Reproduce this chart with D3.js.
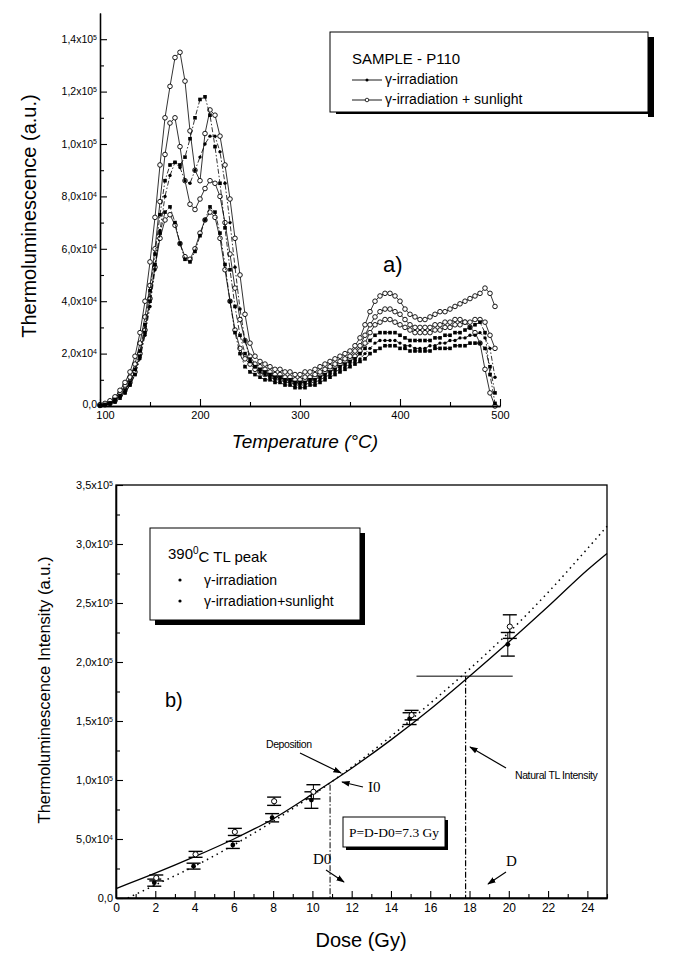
<!DOCTYPE html>
<html><head><meta charset="utf-8">
<script src="https://cdn.jsdelivr.net/npm/d3@7/dist/d3.min.js"></script>
<style>
body{margin:0;background:#fff}
svg{display:block}
</style></head><body>
<svg id="c" width="700" height="961"></svg>
<script>
// ================= DATA (top panel, values in 10^3 a.u.) =================
const temperature = [
 100,105,110,115,120,125,130,135,140,145,
 150,155,160,165,170,175,180,185,190,195,
 200,205,210,215,220,225,230,235,240,245,
 250,255,260,265,270,275,280,285,290,295,
 300,305,310,315,320,325,330,335,340,345,
 350,355,360,365,370,375,380,385,390,395,
 400,405,410,415,420,425,430,435,440,445,
 450,455,460,465,470,475,480,485,490,495];
const sun1 = [
 0.5,1,2,3.5,6,9,13,19,28,40,
 55,72,92,110,122,133,135,124,105,90,
 86,104,113,111,103,92,79,64,50,35,
 24,19,17,16,15,14,14,13,13,12,
 12,13,13,14,15,16,17,18,19,20,
 21,23,26,31,36,40,42,43,43,42,
 40,37,35,34,33,33,34,35,36,36,
 37,38,39,40,41,42,43,45,43,38];
const sun2 = [
 0.3,0.8,1.5,3,5,8,11,16,24,34,
 46,60,78,96,108,110,99,86,77,75,
 79,83,86,85,80,70,58,45,33,25,
 19,16,15,14,13,12,12,11,11,10,
 10,11,11,12,13,14,15,16,17,18,
 19,21,23,27,31,34,36,37,37,36,
 35,33,31,30,30,30,30,31,31,32,
 32,33,33,32,30,28,24,14,5,0];
const sun3 = [
 0.2,0.5,1,2,4,6,9,13,20,29,
 41,53,64,71,73,69,62,57,56,60,
 66,71,74,72,64,52,40,29,22,18,
 16,14,13,12,12,11,11,10,10,9,
 9,10,10,11,12,13,14,15,16,17,
 18,19,21,24,28,31,32,33,33,32,
 31,30,29,28,28,28,28,29,29,30,
 30,31,31,32,32,33,33,32,27,22];
const gam1 = [
 0.3,0.6,1.2,2.5,4,6,9,14,21,31,
 44,58,73,86,92,93,92,95,102,110,
 117,118,111,99,85,68,52,38,27,20,
 17,15,14,13,12,11,11,10,10,9,
 9,9,10,10,11,12,13,14,15,16,
 17,18,20,22,25,27,28,28,28,28,
 27,26,25,25,25,25,25,26,26,27,
 27,28,28,29,30,31,32,28,12,1];
const gam2 = [
 0.2,0.5,1,2,3.5,5,8,12,18,27,
 38,52,67,80,88,93,91,86,85,90,
 95,100,103,103,97,85,70,53,37,25,
 18,15,13,12,11,10,10,9,9,8,
 8,8,9,9,10,11,12,13,14,15,
 16,17,18,20,22,24,25,25,25,25,
 24,23,23,22,22,22,23,23,24,24,
 25,25,26,26,27,27,28,26,22,11];
const gam3 = [
 0.2,0.4,0.8,1.5,3,5,8,12,19,28,
 40,54,66,74,76,70,62,56,55,59,
 65,71,76,74,66,54,40,28,20,15,
 13,12,11,10,10,9,9,8,8,7,
 7,7,8,8,9,10,11,12,13,14,
 15,16,17,18,20,21,22,23,23,23,
 22,22,21,21,21,21,21,22,22,22,
 22,23,23,23,24,24,24,22,15,5];
const topXTicks = [100,200,300,400,500];
const topXMinor = [150,250,350,450];
const topYTicks = [0,20,40,60,80,100,120,140];
const topYMinor = [10,30,50,70,90,110,130];
const topYLabels = [["0,0",""],["2,0x10","4"],["4,0x10","4"],["6,0x10","4"],["8,0x10","4"],["1,0x10","5"],["1,2x10","5"],["1,4x10","5"]];

// ================= DATA (bottom panel, values in 10^3 a.u.) =================
const doses = [2,4,6,8,10,15,20];
const gammaTL  = [13,27,45,68,83,152,215];
const gammaErr = [3,2.5,3,3.5,7,5,10];
const sunTL    = [17,37,56,82,90,155,230];
const sunErr   = [2.5,2.5,3,3.5,6,4,10];
const fitDose   = [0,2,4,6,8,10,12,14,16,18,20,22,24,25];
const fitSolid  = [8,21,35,50,67,88,110,134,160,188,217,247,278,292];
const dotDose   = [0.6,2,4,6,8,10,12,14,16,18,20,22,24,25];
const fitDotted = [0,11,27,45,65,87,111,137,165,194,225,259,296,315];
const D0 = 10.9, Dnat = 17.8, I0 = 100, naturalTL = 188;
const natLineDose = [15.3, 20.2];
const botXTicks = [0,2,4,6,8,10,12,14,16,18,20,22,24];
const botXMinor = [1,3,5,7,9,11,13,15,17,19,21,23,25];
const botYTicks = [0,50,100,150,200,250,300,350];
const botYMinor = [25,75,125,175,225,275,325];
const botYLabels = [["0,0",""],["5,0x10","4"],["1,0x10","5"],["1,5x10","5"],["2,0x10","5"],["2,5x10","5"],["3,0x10","5"],["3,5x10","5"]];

// ================= DRAWING =================
const svg = d3.select("#c");
const FN = "'Liberation Sans Narrow','Arial Narrow','Liberation Sans',Arial,sans-serif";
const FS = "'Liberation Sans',Arial,sans-serif";
const SERIF = "'Liberation Serif','Times New Roman',serif";

svg.append("defs").append("marker").attr("id","arr").attr("viewBox","0 0 10 10")
  .attr("refX",9).attr("refY",5).attr("markerWidth",7).attr("markerHeight",7)
  .attr("orient","auto").append("path").attr("d","M0,1.5L10,5L0,8.5z").attr("fill","#000");

function sci(textSel, lab){
  textSel.each(function(d,i){
    const t = d3.select(this); t.text(null);
    t.append("tspan").text(lab[i][0]);
    if(lab[i][1]) t.append("tspan").attr("dy","-0.5em").attr("font-size","7px").text(lab[i][1]);
  });
}
function styleAxis(g){ g.select(".domain").attr("stroke","#000").attr("stroke-width",1.3); g.selectAll(".tick line").attr("stroke","#000").attr("stroke-width",1.1); }

// ---------- TOP PANEL ----------
const xT = d3.scaleLinear().domain([100,500]).range([100,500]);
const yT = d3.scaleLinear().domain([0,150]).range([406,13]);
const gTop = svg.append("g");

const topSeries = [
  {v:sun3,kind:"sun"},{v:sun2,kind:"sun"},{v:sun1,kind:"sun"},
  {v:gam3,kind:"sq"},{v:gam2,kind:"dot"},{v:gam1,kind:"sq"}];
topSeries.forEach(s=>{
  const pts = temperature.map((t,i)=>[t,s.v[i]]);
  gTop.append("path").attr("d", d3.line().x(d=>xT(d[0])).y(d=>yT(d[1]))(pts))
    .attr("fill","none").attr("stroke","#000").attr("stroke-width",0.8)
    .attr("stroke-dasharray", s.kind==="sun"?null:"5,2,1.5,2");
  const m = gTop.append("g");
  if(s.kind==="sun"){
    m.selectAll("circle").data(pts).join("circle").attr("cx",d=>xT(d[0])).attr("cy",d=>yT(d[1]))
      .attr("r",2.3).attr("fill","#fff").attr("stroke","#000").attr("stroke-width",0.9);
  } else if(s.kind==="sq"){
    m.selectAll("rect").data(pts).join("rect").attr("x",d=>xT(d[0])-1.8).attr("y",d=>yT(d[1])-1.8)
      .attr("width",3.6).attr("height",3.6).attr("fill","#000");
  } else {
    m.selectAll("circle").data(pts).join("circle").attr("cx",d=>xT(d[0])).attr("cy",d=>yT(d[1]))
      .attr("r",1.7).attr("fill","#000");
  }
});

const tyMin = gTop.append("g").attr("transform","translate(100,0)")
  .call(d3.axisLeft(yT).tickValues(topYMinor).tickSize(-4).tickSizeOuter(0).tickFormat(""));
styleAxis(tyMin);
const tyAx = gTop.append("g").attr("transform","translate(100,0)")
  .call(d3.axisLeft(yT).tickValues(topYTicks).tickSize(-7).tickSizeOuter(0).tickPadding(3));
styleAxis(tyAx);
tyAx.selectAll("text").attr("font-family",FN).attr("font-size",10.5).attr("fill","#000").call(sci, topYLabels);
tyAx.selectAll(".tick").filter(d=>d===0).select("text").attr("dy","0.1em");
const txMin = gTop.append("g").attr("transform","translate(0,406)")
  .call(d3.axisBottom(xT).tickValues(topXMinor).tickSize(-4).tickSizeOuter(0).tickFormat(""));
styleAxis(txMin);
const txAx = gTop.append("g").attr("transform","translate(0,406)")
  .call(d3.axisBottom(xT).tickValues(topXTicks).tickSize(-7).tickSizeOuter(0).tickPadding(5));
styleAxis(txAx);
txAx.selectAll("text").attr("font-family",FN).attr("font-size",11).attr("fill","#000");
txAx.selectAll(".tick").filter(d=>d===100).select("text").attr("x",5);

gTop.append("text").attr("transform","translate(36,216) rotate(-90)").attr("text-anchor","middle")
  .attr("font-family",FS).attr("font-size",20).text("Thermoluminescence (a.u.)");
gTop.append("text").attr("x",305).attr("y",448).attr("text-anchor","middle")
  .attr("font-family",FS).attr("font-size",19).attr("font-style","italic").text("Temperature (°C)");
gTop.append("text").attr("x",383).attr("y",272).attr("font-family",FS).attr("font-size",22).text("a)");

// top legend
gTop.append("rect").attr("x",648).attr("y",37).attr("width",6).attr("height",80).attr("fill","#000");
gTop.append("rect").attr("x",336).attr("y",112).attr("width",318).attr("height",2).attr("fill","#000");
gTop.append("rect").attr("x",330).attr("y",32).attr("width",318).attr("height",80).attr("fill","#fff").attr("stroke","#000").attr("stroke-width",1);
gTop.append("text").attr("x",352).attr("y",64).attr("font-family",FS).attr("font-size",15).text("SAMPLE - P110");
[[84,"gam","γ-irradiation"],[104,"sun","γ-irradiation + sunlight"]].forEach(r=>{
  gTop.append("line").attr("x1",352).attr("x2",382).attr("y1",r[0]-4).attr("y2",r[0]-4).attr("stroke","#000").attr("stroke-width",0.9);
  if(r[1]==="gam") gTop.append("circle").attr("cx",367).attr("cy",r[0]-4).attr("r",1.5).attr("fill","#000");
  else gTop.append("circle").attr("cx",367).attr("cy",r[0]-4).attr("r",1.8).attr("fill","#fff").attr("stroke","#000").attr("stroke-width",0.8);
  gTop.append("text").attr("x",385).attr("y",r[0]).attr("font-family",FS).attr("font-size",14).text(r[2]);
});

// ---------- BOTTOM PANEL ----------
const xB = d3.scaleLinear().domain([0,25]).range([116,607]);
const yB = d3.scaleLinear().domain([0,350]).range([898,485]);
const gBot = svg.append("g");

gBot.append("rect").attr("x",116).attr("y",485).attr("width",491).attr("height",413).attr("fill","none").attr("stroke","#000").attr("stroke-width",1.3);

const byMin = gBot.append("g").attr("transform","translate(116,0)")
  .call(d3.axisLeft(yB).tickValues(botYMinor).tickSize(-4).tickSizeOuter(0).tickFormat(""));
styleAxis(byMin);
const byAx = gBot.append("g").attr("transform","translate(116,0)")
  .call(d3.axisLeft(yB).tickValues(botYTicks).tickSize(-7).tickSizeOuter(0).tickPadding(3));
styleAxis(byAx);
byAx.selectAll("text").attr("font-family",FN).attr("font-size",11).attr("fill","#000").call(sci, botYLabels);
const bxMin = gBot.append("g").attr("transform","translate(0,898)")
  .call(d3.axisBottom(xB).tickValues(botXMinor).tickSize(-4).tickSizeOuter(0).tickFormat(""));
styleAxis(bxMin);
const bxAx = gBot.append("g").attr("transform","translate(0,898)")
  .call(d3.axisBottom(xB).tickValues(botXTicks).tickSize(-7).tickSizeOuter(0).tickPadding(5));
styleAxis(bxAx);
bxAx.selectAll("text").attr("font-family",FN).attr("font-size",12).attr("fill","#000");

gBot.append("text").attr("transform","translate(50,690) rotate(-90)").attr("text-anchor","middle")
  .attr("font-family",FS).attr("font-size",16.5).text("Thermoluminescence Intensity (a.u.)");
gBot.append("text").attr("x",361).attr("y",947).attr("text-anchor","middle")
  .attr("font-family",FS).attr("font-size",20).text("Dose (Gy)");

gBot.append("path").attr("d", d3.line().curve(d3.curveMonotoneX).x((d,i)=>xB(fitDose[i])).y(d=>yB(d))(fitSolid))
  .attr("fill","none").attr("stroke","#000").attr("stroke-width",1.3);
gBot.append("path").attr("d", d3.line().curve(d3.curveMonotoneX).x((d,i)=>xB(dotDose[i])).y(d=>yB(d))(fitDotted))
  .attr("fill","none").attr("stroke","#000").attr("stroke-width",1.5).attr("stroke-dasharray","1.5,4");

function errPts(vals, errs, dx, open){
  const g = gBot.append("g");
  doses.forEach((d,i)=>{
    const x = xB(d)+dx, y1 = yB(vals[i]-errs[i]), y2 = yB(vals[i]+errs[i]);
    g.append("line").attr("x1",x).attr("x2",x).attr("y1",y1).attr("y2",y2).attr("stroke","#000").attr("stroke-width",1);
    [y1,y2].forEach(y=>g.append("line").attr("x1",x-7).attr("x2",x+7).attr("y1",y).attr("y2",y).attr("stroke","#000").attr("stroke-width",1.4));
    if(open) g.append("circle").attr("cx",x).attr("cy",yB(vals[i])).attr("r",2.6).attr("fill","#fff").attr("stroke","#000").attr("stroke-width",1);
    else g.append("circle").attr("cx",x).attr("cy",yB(vals[i])).attr("r",2.4).attr("fill","#000");
  });
}
errPts(gammaTL, gammaErr, -1, false);
errPts(sunTL, sunErr, 1, true);

const dashDot = "6,2,1.5,2";
gBot.append("line").attr("x1",xB(D0)).attr("x2",xB(D0)).attr("y1",yB(I0-4)).attr("y2",yB(0)).attr("stroke","#000").attr("stroke-width",1).attr("stroke-dasharray",dashDot);
gBot.append("line").attr("x1",xB(Dnat)).attr("x2",xB(Dnat)).attr("y1",yB(naturalTL)).attr("y2",yB(0)).attr("stroke","#000").attr("stroke-width",1.2).attr("stroke-dasharray",dashDot);
gBot.append("line").attr("x1",xB(natLineDose[0])).attr("x2",xB(natLineDose[1])).attr("y1",yB(naturalTL)).attr("y2",yB(naturalTL)).attr("stroke","#000").attr("stroke-width",1);

function arrow(x1,y1,x2,y2){ gBot.append("line").attr("x1",x1).attr("y1",y1).attr("x2",x2).attr("y2",y2).attr("stroke","#000").attr("stroke-width",1.2).attr("marker-end","url(#arr)"); }
gBot.append("text").attr("x",266).attr("y",748).attr("font-family",FN).attr("font-size",10.5).attr("letter-spacing","-0.4").text("Deposition");
arrow(300,753,341,773);
gBot.append("text").attr("x",368).attr("y",792).attr("font-family",SERIF).attr("font-size",15).text("I0");
arrow(363,787,342,782);
gBot.append("text").attr("x",313).attr("y",864).attr("font-family",SERIF).attr("font-size",15).text("D0");
arrow(326,870,344,882);
gBot.append("text").attr("x",506).attr("y",866).attr("font-family",SERIF).attr("font-size",15).text("D");
arrow(506,872,488,884);
gBot.append("text").attr("x",515).attr("y",779).attr("font-family",FN).attr("font-size",10.5).attr("letter-spacing","-0.4").text("Natural TL Intensity");
arrow(506,768,470,747);

gBot.append("rect").attr("x",346).attr("y",820).attr("width",102).attr("height",30).attr("fill","#000");
gBot.append("rect").attr("x",343).attr("y",817).attr("width",102).attr("height",30).attr("fill","#fff").attr("stroke","#000").attr("stroke-width",1);
gBot.append("text").attr("x",394).attr("y",837).attr("text-anchor","middle").attr("font-family",SERIF).attr("font-size",13.5).text("P=D-D0=7.3 Gy");

gBot.append("text").attr("x",165).attr("y",707).attr("font-family",FS).attr("font-size",20).text("b)");

gBot.append("rect").attr("x",155).attr("y",533).attr("width",210).attr("height",92).attr("fill","#000");
gBot.append("rect").attr("x",150).attr("y",528).attr("width",210).attr("height",92).attr("fill","#fff").attr("stroke","#000").attr("stroke-width",1);
const lt = gBot.append("text").attr("x",168).attr("y",559).attr("font-family",FS).attr("font-size",15);
lt.append("tspan").text("390");
lt.append("tspan").attr("dy","-0.5em").attr("font-size","10px").text("0");
lt.append("tspan").attr("dy","0.5em").text("C TL peak");
[[585,"γ-irradiation"],[606,"γ-irradiation+sunlight"]].forEach(r=>{
  gBot.append("circle").attr("cx",180).attr("cy",r[0]-5).attr("r",1.6).attr("fill","#000");
  gBot.append("text").attr("x",204).attr("y",r[0]).attr("font-family",FS).attr("font-size",14).text(r[1]);
});
</script>
</body></html>
